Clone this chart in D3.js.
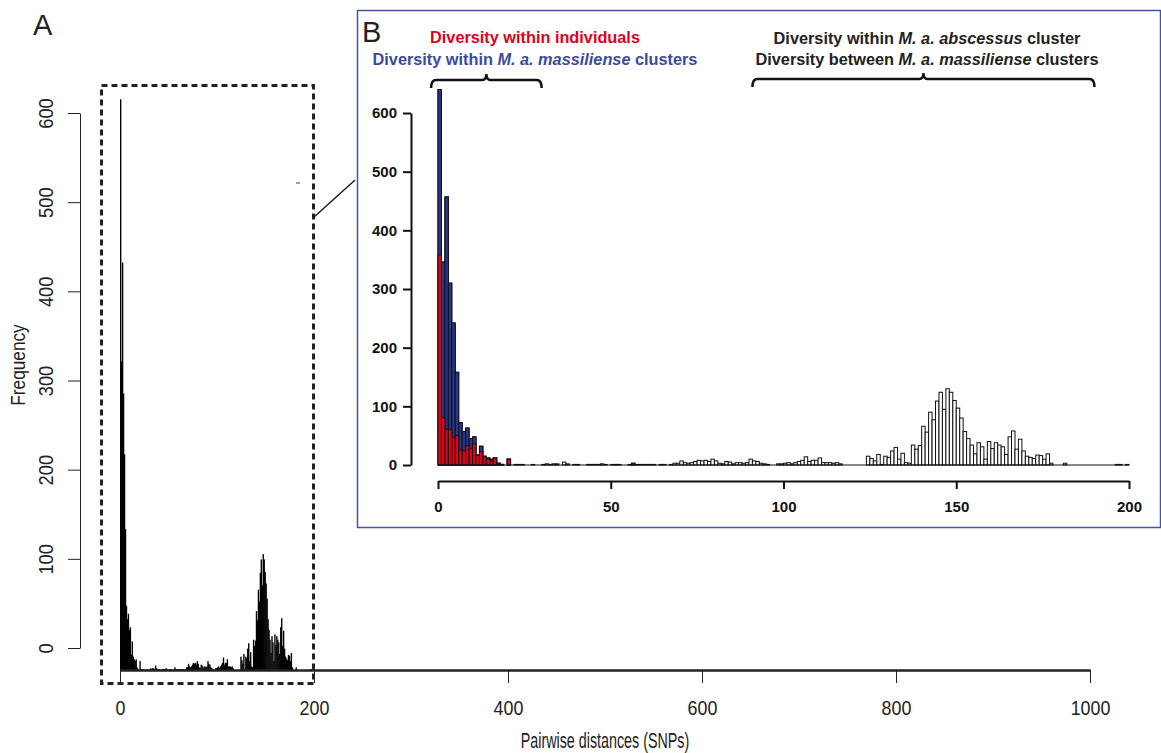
<!DOCTYPE html>
<html lang="en">
<head>
<meta charset="utf-8">
<title>Pairwise distances (SNPs)</title>
<script src="https://cdn.jsdelivr.net/npm/d3@7"></script>
<style>
  body { margin: 0; padding: 0; background: #fff; }
  svg { display: block; font-family: "Liberation Sans", Arial, sans-serif; }
  .axisA path, .axisA line { stroke: #222; }
  .axisB path, .axisB line { stroke: #111; stroke-width: 2px; }
  .axisB text { font-size: 15px; font-weight: bold; fill: #111; }
  .axisA text { font-size: 21px; fill: #222; }
</style>
</head>
<body>
<script>
var width = 1161;
var height = 753;

// counts of all pairwise distances, one bin per SNP (0..199)
var allPairs = [
  640,346,457,310,242,158,72,57,63,45,
  48,17,32,15,12,10,12,3,1,0,
  10,0,1,1,1,0,0,1,0,0,
  1,2,1,2,2,0,5,2,0,1,
  1,0,0,1,1,1,1,2,1,0,
  1,1,1,0,0,1,3,1,1,1,
  1,1,1,0,1,1,0,1,3,3,
  7,4,3,4,6,8,7,8,6,10,
  7,3,2,6,5,2,4,4,3,4,
  10,7,6,3,2,1,0,0,2,2,
  3,4,2,4,6,8,14,6,8,8,
  12,4,4,4,3,4,2,0,0,0,
  0,0,0,0,15,11,7,18,1,15,
  13,24,30,10,20,4,3,34,27,33,
  66,56,90,77,109,124,95,130,124,110,
  97,80,57,45,34,19,38,31,10,40,
  28,38,34,31,18,48,58,27,44,24,
  15,13,11,17,16,10,19,3,0,0,
  0,3,0,0,0,0,0,0,0,0,
  0,0,0,0,0,0,1,1,0,1
];

// within M. a. massiliense clusters (blue), bins 0..20
var withinClusters = [640,346,457,310,242,158,72,57,63,45,48,17,32,15,12,10,12,3,1,0,10];

// within individuals (red), bins 0..56
var withinIndividuals = [
  358,81,61,61,47,50,26,24,33,28,
  36,17,23,14,10,7,12,3,1,0,
  10,0,0,0,0,0,0,0,0,0,
  0,0,0,0,0,0,0,0,0,0,
  0,0,0,0,0,0,0,0,0,0,
  0,0,0,0,0,0,3
];

var xTicksA = [0, 200, 400, 600, 800, 1000];
var yTicksA = [0, 100, 200, 300, 400, 500, 600];
var xTicksB = [0, 50, 100, 150, 200];
var yTicksB = [0, 100, 200, 300, 400, 500, 600];
var braceRanges = [[-2, 30], [91, 190]];

var svg = d3.select("body").append("svg")
    .attr("width", width)
    .attr("height", height);

// squeeze text horizontally (the original uses a condensed face)
function condense(sel, f) {
  sel.each(function() {
    var w = this.getComputedTextLength();
    d3.select(this).attr("textLength", w * f).attr("lengthAdjust", "spacingAndGlyphs");
  });
}

// ---------------- panel A ----------------
var xA = d3.scaleLinear().domain([0, 1000]).range([120, 1090]);
var yA = d3.scaleLinear().domain([0, 600]).range([648, 113]);
var baseA = 670; // bars sit on the x axis line, below the y axis zero

var gA = svg.append("g");

gA.selectAll("rect.barA")
    .data(allPairs)
    .enter().append("rect")
    .attr("class", "barA")
    .attr("x", function(d, i) { return xA(i); })
    .attr("width", function(d, i) { return xA(i + 1) - xA(i) + 0.4; })
    .attr("y", function(d) { return baseA - (yA(0) - yA(d)); })
    .attr("height", function(d) { return yA(0) - yA(d); })
    .attr("fill", "#000");

var axA = gA.append("g")
    .attr("class", "axisA")
    .attr("transform", "translate(0," + baseA + ")")
    .call(d3.axisBottom(xA).tickValues(xTicksA).tickFormat(d3.format("d"))
      .tickSize(13).tickSizeOuter(0).tickPadding(17));
axA.select(".domain").attr("stroke-width", 2.5).attr("stroke", "#111");
axA.selectAll("text").attr("font-family", null).call(condense, 0.85);

var ayA = gA.append("g")
    .attr("class", "axisA")
    .attr("transform", "translate(80,0)")
    .call(d3.axisLeft(yA).tickValues(yTicksA).tickSize(12).tickSizeOuter(0));
ayA.selectAll("text")
    .attr("x", 0).attr("y", -27).attr("dy", 0)
    .attr("transform", "rotate(-90)")
    .style("text-anchor", "middle")
    .attr("font-family", null)
    .call(condense, 0.87);

svg.append("text")
    .attr("transform", "translate(25,365) rotate(-90)")
    .attr("text-anchor", "middle")
    .attr("font-size", 21)
    .attr("fill", "#222")
    .text("Frequency")
    .call(condense, 0.82);

svg.append("text")
    .attr("x", 605).attr("y", 748)
    .attr("text-anchor", "middle")
    .attr("font-size", 22)
    .attr("fill", "#222")
    .text("Pairwise distances (SNPs)")
    .call(condense, 0.65);

svg.append("text")
    .attr("x", 33).attr("y", 35)
    .attr("font-size", 29)
    .attr("fill", "#222")
    .text("A");

// zoom frame and connector
svg.append("rect")
    .attr("x", 101.5).attr("y", 85.5)
    .attr("width", 212).attr("height", 598)
    .attr("fill", "none")
    .attr("stroke", "#222")
    .attr("stroke-width", 3)
    .attr("stroke-dasharray", "6,4");

svg.append("line")
    .attr("x1", 296).attr("y1", 183).attr("x2", 300).attr("y2", 183)
    .attr("stroke", "#444").attr("stroke-width", 1);

svg.append("line")
    .attr("x1", 313).attr("y1", 218).attr("x2", 355).attr("y2", 180)
    .attr("stroke", "#111").attr("stroke-width", 1.3);

// ---------------- panel B ----------------
svg.append("rect")
    .attr("x", 357.5).attr("y", 10.5)
    .attr("width", 803).attr("height", 517)
    .attr("fill", "#fff")
    .attr("stroke", "#4653a3")
    .attr("stroke-width", 1.5);

svg.append("text")
    .attr("x", 362).attr("y", 42)
    .attr("font-size", 29)
    .attr("fill", "#222")
    .text("B");

var xB = d3.scaleLinear().domain([0, 200]).range([438, 1129]);
var yB = d3.scaleLinear().domain([0, 600]).range([465, 113]);

var gB = svg.append("g");

function drawBars(data, cls, fill) {
  var bins = data.map(function(v, i) { return { bin: i, n: v }; })
      .filter(function(d) { return d.n > 0; });
  gB.selectAll("rect." + cls)
      .data(bins)
      .enter().append("rect")
      .attr("class", cls)
      .attr("x", function(d) { return xB(d.bin); })
      .attr("width", function(d) { return xB(d.bin + 1) - xB(d.bin); })
      .attr("y", function(d) { return yB(d.n); })
      .attr("height", function(d) { return yB(0) - yB(d.n); })
      .attr("fill", fill)
      .attr("stroke", "#111")
      .attr("stroke-width", 1);
}
drawBars(allPairs, "barAll", "#fff");
drawBars(withinClusters, "barClu", "#27358c");
drawBars(withinIndividuals, "barInd", "#e2001a");

gB.append("line")
    .attr("x1", xB(0)).attr("x2", xB(200))
    .attr("y1", yB(0)).attr("y2", yB(0))
    .attr("stroke", "#111").attr("stroke-width", 1);

var axB = gB.append("g")
    .attr("class", "axisB")
    .attr("transform", "translate(0,481)")
    .call(d3.axisBottom(xB).tickValues(xTicksB).tickSize(8).tickSizeOuter(0).tickPadding(12));
axB.selectAll("text").attr("font-family", null);

var ayB = gB.append("g")
    .attr("class", "axisB")
    .attr("transform", "translate(411,0)")
    .call(d3.axisLeft(yB).tickValues(yTicksB).tickSize(8).tickSizeOuter(0).tickPadding(6));
ayB.selectAll("text").attr("font-family", null);

// braces
function bracePath(a, b, y) {
  var x0 = xB(a), x1 = xB(b), xc = (x0 + x1) / 2;
  return "M" + x0 + "," + (y + 8) +
    "Q" + x0 + "," + y + " " + (x0 + 5) + "," + y +
    "L" + (xc - 4) + "," + y +
    "Q" + xc + "," + y + " " + xc + "," + (y - 6) +
    "Q" + xc + "," + y + " " + (xc + 4) + "," + y +
    "L" + (x1 - 5) + "," + y +
    "Q" + x1 + "," + y + " " + x1 + "," + (y + 8);
}
gB.selectAll("path.brace")
    .data(braceRanges)
    .enter().append("path")
    .attr("class", "brace")
    .attr("d", function(d, i) { return bracePath(d[0], d[1], i === 0 ? 80 : 79); })
    .attr("fill", "none")
    .attr("stroke", "#111")
    .attr("stroke-width", 2.5);

// annotations
function label(x, y, color, parts) {
  var t = svg.append("text")
      .attr("x", x).attr("y", y)
      .attr("text-anchor", "middle")
      .attr("font-size", 16.3)
      .attr("font-weight", "bold")
      .attr("fill", color);
  parts.forEach(function(p) {
    t.append("tspan")
        .attr("font-style", p[1] ? "italic" : "normal")
        .text(p[0]);
  });
}
label(535, 43, "#e2001a", [["Diversity within individuals", false]]);
label(535, 65, "#3b4a9e", [["Diversity within ", false], ["M. a. massiliense", true], [" clusters", false]]);
label(927, 44, "#222", [["Diversity within ", false], ["M. a. abscessus", true], [" cluster", false]]);
label(927, 65, "#222", [["Diversity between ", false], ["M. a. massiliense", true], [" clusters", false]]);
</script>
</body>
</html>
